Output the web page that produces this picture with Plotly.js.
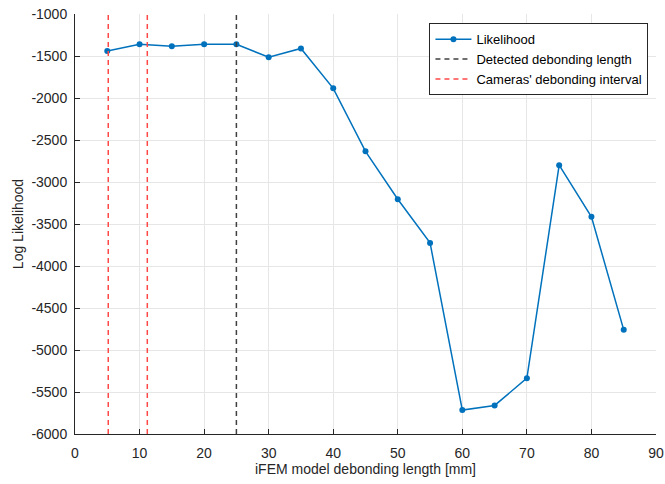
<!DOCTYPE html>
<html>
<head>
<meta charset="utf-8">
<script src="https://cdn.plot.ly/plotly-3.0.1.min.js"></script>
<style>html,body{margin:0;padding:0;background:#fff;}#chart{width:665px;height:484px;}</style>
</head>
<body>
<div id="chart"></div>
<script>
const debondLength = [5, 10, 15, 20, 25, 30, 35, 40, 45, 50, 55, 60, 65, 70, 75, 80, 85];
const logLikelihood = [-1440, -1360, -1385, -1360, -1360, -1515, -1410, -1885, -2635, -3205, -3725, -5715, -5660, -5335, -2800, -3415, -4760];
const detectedLength = 25;
const cameraInterval = [5.15, 11.2];
const yRange = [-6000, -1000];
const yTicks = [-6000, -5500, -5000, -4500, -4000, -3500, -3000, -2500, -2000, -1500, -1000];
const xTicks = [0, 10, 20, 30, 40, 50, 60, 70, 80, 90];

const traces = [
  {x: debondLength, y: logLikelihood, mode: 'lines+markers', name: 'Likelihood',
   line: {color: '#0072BD', width: 1.5}, marker: {color: '#0072BD', size: 6, symbol: 'circle'}},
  {x: [detectedLength, detectedLength], y: yRange, mode: 'lines', name: 'Detected debonding length',
   line: {color: '#404040', width: 1.5, dash: '5px,4px'}},
  {x: [cameraInterval[0], cameraInterval[0]], y: yRange, mode: 'lines', name: "Cameras' debonding interval",
   line: {color: '#FF4848', width: 1.5, dash: '5px,4px'}},
  {x: [cameraInterval[1], cameraInterval[1]], y: yRange, mode: 'lines', showlegend: false,
   line: {color: '#FF4848', width: 1.5, dash: '5px,4px'}}
];

const layout = {
  width: 665, height: 484,
  margin: {l: 75, r: 9, t: 14, b: 50},
  paper_bgcolor: '#fff', plot_bgcolor: '#fff',
  font: {family: 'Liberation Sans, Arial, sans-serif', size: 14, color: '#262626'},
  showlegend: true,
  legend: {x: 0.987, y: 0.978, xanchor: 'right', yanchor: 'top', bgcolor: '#fff',
           bordercolor: '#262626', borderwidth: 1, font: {size: 13, color: '#000'},
           tracegroupgap: 0, itemwidth: 36},
  xaxis: {range: [0, 90], tickvals: xTicks, ticktext: xTicks.map(String),
          showgrid: true, gridcolor: '#e6e6e6', zeroline: false,
          showline: true, linecolor: '#262626', linewidth: 1,
          ticks: 'inside', ticklen: 5, tickcolor: '#262626', ticklabelstandoff: 6,
          title: {text: 'iFEM model debonding length [mm]', font: {size: 14}, standoff: 3}},
  yaxis: {range: yRange, tickvals: yTicks, ticktext: yTicks.map(String),
          showgrid: true, gridcolor: '#e6e6e6', zeroline: false,
          showline: true, linecolor: '#262626', linewidth: 1,
          ticks: 'inside', ticklen: 5, tickcolor: '#262626', ticklabelstandoff: 4,
          title: {text: 'Log Likelihood', font: {size: 14}, standoff: 4}}
};

Plotly.newPlot('chart', traces, layout, {displayModeBar: false, staticPlot: true});
</script>
</body>
</html>
